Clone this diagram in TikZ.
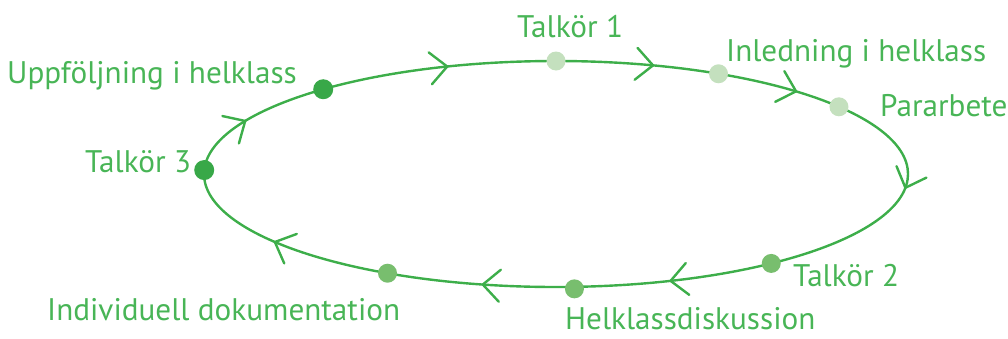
\documentclass[tikz,border=0pt]{standalone}
\usepackage{fontspec}
\setmainfont{PT Sans}
\definecolor{linegreen}{HTML}{3DAE4A}
\definecolor{textgreen}{HTML}{48B556}
\definecolor{dotdark}{HTML}{38A848}
\definecolor{dotmid}{HTML}{78BE6E}
\definecolor{dotlight}{HTML}{C4E0BE}
\tikzset{
  cycleline/.style={draw=linegreen, line width=2.4pt},
  chevron/.style={draw=linegreen, line width=2.4pt, line cap=round, line join=miter},
  dot/.style={circle, inner sep=0pt, minimum size=19pt},
  darkdot/.style={dot, fill=dotdark, minimum size=20pt},
  middot/.style={dot, fill=dotmid},
  lightdot/.style={dot, fill=dotlight},
  lbl/.style={anchor=base west, inner sep=0pt, text=textgreen, font=\fontsize{31.2}{34}\selectfont}
}
\begin{document}
\begin{tikzpicture}[x=1pt,y=-1pt]
\useasboundingbox (0,0) rectangle (1008,338);
\begin{scope}[shift={(556,174)}]
  \draw[cycleline] (0,0) ellipse [x radius=352, y radius=113];
  \foreach \t in {208,252,286,313,7,71,102,143} {
    \pgfmathsetmacro\ang{atan2(-113*cos(\t),-352*sin(\t))}
    \draw[chevron, shift={(\t:352 and 113)}, rotate=\ang] (-17,16) -- (0,0) -- (-17,-16);
  }
  \node[darkdot]  (d3)  at (182:352 and 113) {};
  \node[darkdot]  (du)  at (228.6:352 and 113) {};
  \node[lightdot] (d1)  at (270:352 and 113) {};
  \node[lightdot] (di)  at (297.5:352 and 113) {};
  \node[lightdot] (dp)  at (323.5:352 and 113) {};
  \node[middot]   (d2)  at (52.3:352 and 113) {};
  \node[middot]   (dh)  at (87:352 and 115) {};
  \node[middot]   (dind) at (118.6:352 and 113) {};
\end{scope}
\node[lbl] (lu) at (7,83) {Uppföljning i helklass};
\node[lbl] (l1) at (517,37) {Talkör 1};
\node[lbl] (li) at (726,61) {Inledning i helklass};
\node[lbl] (lp) at (880,116) {Pararbete};
\node[lbl] (l3) at (85,172) {Talkör 3};
\node[lbl] (l2) at (793,286) {Talkör 2};
\node[lbl] (lh) at (565,329) {Helklassdiskussion};
\node[lbl] (lind) at (47,320) {Individuell dokumentation};
\end{tikzpicture}
\end{document}
